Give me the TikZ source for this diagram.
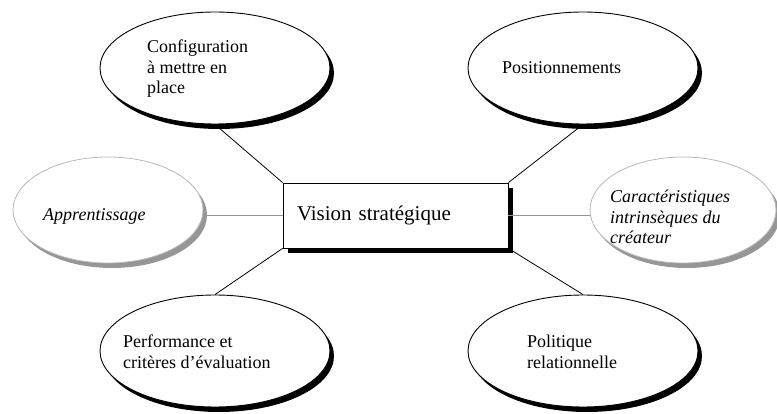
\documentclass[tikz,border=0pt]{standalone}
\usepackage{fontspec}
\setmainfont{Liberation Serif}
\usetikzlibrary{shapes.geometric,shadows}
\definecolor{rimgray}{RGB}{185,185,185}
\definecolor{dotgray}{RGB}{150,150,150}

\begin{document}
\begin{tikzpicture}[x=1pt, y=-1pt,
  bubble/.style={draw, ellipse, line width=0.9pt, fill=white, inner sep=0pt,
    minimum width=230pt, minimum height=112pt,
    drop shadow={shadow xshift=4pt, shadow yshift=-5pt, fill=black, opacity=1}},
  softbubble/.style={draw=rimgray, ellipse, line width=0.8pt, fill=white, inner sep=0pt,
    drop shadow={shadow xshift=4pt, shadow yshift=-5pt, fill=dotgray, opacity=1}},
  caption/.style={anchor=west, align=left, inner sep=0pt, font=\fontsize{18}{20.5}\selectfont},
  link/.style={line width=0.8pt},
  softlink/.style={draw=dotgray, line width=1.6pt}]
\useasboundingbox (0,0) rectangle (777,414);

% outer ellipses
\node[bubble] (config) at (215,68) {};
\node[bubble] (posit) at (583,68) {};
\node[bubble] (perf) at (215,351) {};
\node[bubble] (polit) at (583,351) {};
\node[softbubble, minimum width=190pt, minimum height=106pt] (appr) at (108,210) {};
\node[softbubble, minimum width=186pt, minimum height=106pt] (carac) at (683,210) {};

% centre box
\node[draw, rectangle, line width=0.8pt, fill=white, minimum width=225pt, minimum height=65pt,
  inner xsep=14pt, text width=197pt, align=left, font=\fontsize{21}{24}\selectfont,
  drop shadow={shadow xshift=5pt, shadow yshift=-5pt, fill=black, opacity=1}]
  (vision) at (395.5,215.5) {Vision stratégique};

% texts
\node[caption] (configtext) at (147,69) {Configuration\\à mettre en\\place};
\node[caption] (posittext) at (502,68) {Positionnements};
\node[caption, font=\fontsize{18}{20.5}\selectfont\itshape] (apprtext) at (43,216) {Apprentissage};
\node[caption, font=\fontsize{18}{20.5}\selectfont\itshape] (caractext) at (610,217) {Caractéristiques\\intrinsèques du\\créateur};
\node[caption] (perftext) at (123,352) {Performance et\\critères d’évaluation};
\node[caption] (polittext) at (527,352) {Politique\\relationnelle};

% links
\draw[link] (vision.north west) -- (config.south);
\draw[link] (vision.north east) -- (posit.south);
\draw[link] (vision.south west) -- (perf.north);
\draw[link] (vision.south east) -- (polit.north);
\draw[softlink] (vision.west) -- (appr.east |- vision.west);
\draw[softlink] (vision.east) -- (carac.west |- vision.east);
\end{tikzpicture}
\end{document}
